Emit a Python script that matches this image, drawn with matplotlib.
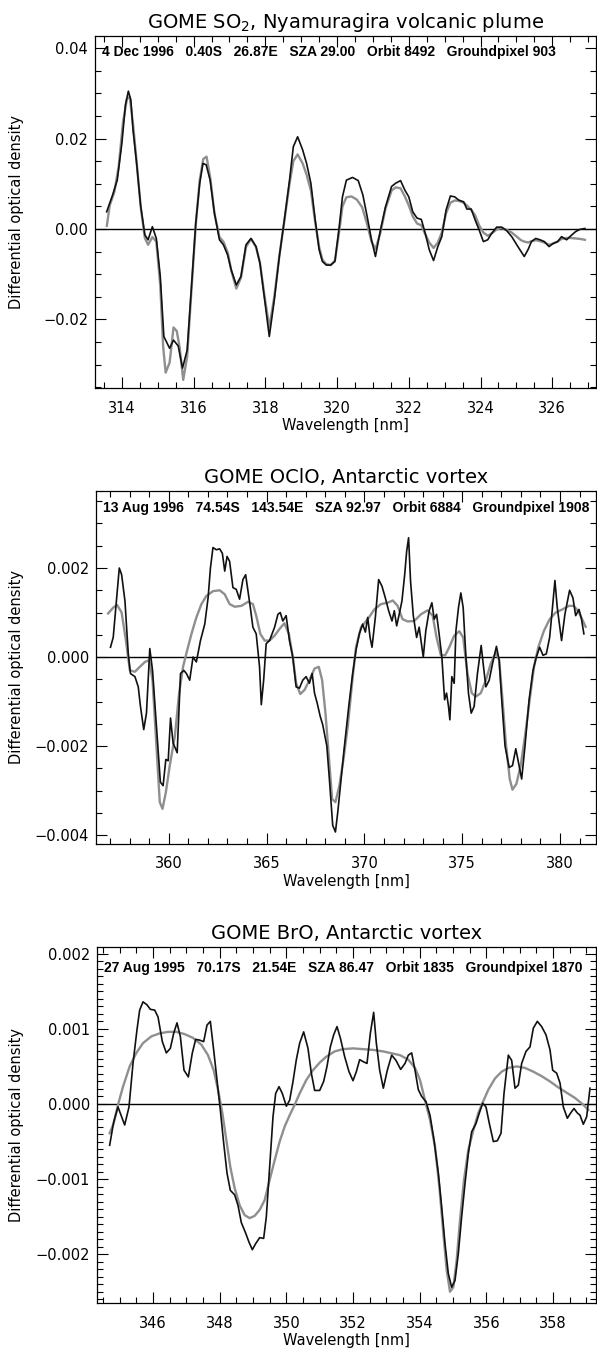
import matplotlib
matplotlib.use("Agg")
import matplotlib.pyplot as plt
from matplotlib.ticker import MultipleLocator, FormatStrFormatter, FuncFormatter

plt.rcParams['font.family'] = ['DejaVu Sans']

# --- SO2, Nyamuragira plume: measured and fitted optical density
so2_wl_meas = [313.575, 313.74, 313.87, 314.00, 314.10, 314.18, 314.25, 314.31, 314.41, 314.52,
               314.64, 314.73, 314.85, 314.96, 315.07, 315.17, 315.33, 315.44, 315.57, 315.69,
               315.82, 315.94, 316.06, 316.17, 316.26, 316.35, 316.46, 316.58, 316.72, 316.83,
               316.95, 317.05, 317.19, 317.32, 317.46, 317.60, 317.74, 317.85, 317.97, 318.11,
               318.25, 318.39, 318.53, 318.67, 318.78, 318.90, 319.04, 319.15, 319.27, 319.39,
               319.50, 319.59, 319.70, 319.82, 319.94, 320.06, 320.15, 320.26, 320.43, 320.59,
               320.72, 320.84, 320.96, 321.07, 321.21, 321.35, 321.52, 321.63, 321.77, 321.89,
               322.00, 322.11, 322.23, 322.35, 322.46, 322.57, 322.69, 322.81, 322.92, 323.04,
               323.16, 323.28, 323.39, 323.53, 323.62, 323.74, 323.85, 323.96, 324.08, 324.20,
               324.31, 324.45, 324.59, 324.73, 324.87, 325.01, 325.13, 325.22, 325.33, 325.42,
               325.54, 325.66, 325.78, 325.91, 326.03, 326.15, 326.26, 326.40, 326.52, 326.65,
               326.77, 326.91]
so2_meas = [0.0038, 0.0075, 0.0108, 0.0190, 0.0275, 0.0305, 0.0285, 0.0219, 0.0146, 0.0053,
            -0.0013, -0.0024, 0.0005, -0.0021, -0.0105, -0.0238, -0.0264, -0.0246, -0.0259, -0.0308,
            -0.0268, -0.0128, 0.0013, 0.0101, 0.0145, 0.0142, 0.0108, 0.0035, -0.0024, -0.0035,
            -0.0058, -0.0091, -0.0124, -0.0105, -0.0035, -0.0021, -0.0039, -0.0076, -0.0150, -0.0238,
            -0.0157, -0.0061, 0.0020, 0.0105, 0.0182, 0.0204, 0.0175, 0.0145, 0.0101, 0.0020,
            -0.0046, -0.0072, -0.0080, -0.0080, -0.0072, 0.0005, 0.0071, 0.0108, 0.0114, 0.0107,
            0.0075, 0.0027, -0.0024, -0.0061, -0.0002, 0.0049, 0.0094, 0.0101, 0.0107, 0.0086,
            0.0071, 0.0038, 0.0024, 0.0021, -0.0010, -0.0046, -0.0070, -0.0039, -0.0017, 0.0042,
            0.0073, 0.0071, 0.0064, 0.0060, 0.0044, 0.0044, 0.0020, -0.0002, -0.0028, -0.0024,
            -0.0010, 0.0004, 0.0004, -0.0004, -0.0017, -0.0035, -0.0050, -0.0061, -0.0045, -0.0028,
            -0.0021, -0.0024, -0.0028, -0.0039, -0.0032, -0.0028, -0.0017, -0.0024, -0.0015, -0.0006,
            -0.0001, 0.0001]
so2_wl_fit = [313.58, 313.66, 313.79, 313.91, 314.03, 314.14, 314.22, 314.32, 314.42, 314.53,
              314.64, 314.73, 314.85, 314.96, 315.07, 315.15, 315.22, 315.33, 315.44, 315.53,
              315.61, 315.71, 315.82, 315.94, 316.06, 316.17, 316.27, 316.36, 316.47, 316.58,
              316.72, 316.83, 316.95, 317.05, 317.19, 317.32, 317.46, 317.60, 317.74, 317.85,
              317.97, 318.11, 318.25, 318.39, 318.53, 318.67, 318.78, 318.90, 319.04, 319.15,
              319.27, 319.39, 319.50, 319.59, 319.70, 319.82, 319.94, 320.06, 320.15, 320.26,
              320.40, 320.55, 320.70, 320.84, 320.96, 321.07, 321.21, 321.35, 321.52, 321.63,
              321.77, 321.89, 322.00, 322.11, 322.23, 322.35, 322.46, 322.57, 322.69, 322.81,
              322.92, 323.04, 323.16, 323.28, 323.39, 323.53, 323.62, 323.74, 323.85, 323.96,
              324.08, 324.20, 324.31, 324.45, 324.59, 324.73, 324.87, 325.01, 325.13, 325.22,
              325.33, 325.42, 325.54, 325.66, 325.78, 325.91, 326.03, 326.15, 326.26, 326.40,
              326.52, 326.65, 326.77, 326.91]
so2_fit = [0.0007, 0.0052, 0.0082, 0.0138, 0.0235, 0.0288, 0.0292, 0.0225, 0.0140, 0.0045,
           -0.0020, -0.0035, -0.0018, -0.0028, -0.0125, -0.0260, -0.0318, -0.0296, -0.0218, -0.0226,
           -0.0262, -0.0334, -0.0282, -0.0135, 0.0010, 0.0108, 0.0155, 0.0160, 0.0110, 0.0035,
           -0.0018, -0.0028, -0.0052, -0.0092, -0.0132, -0.0108, -0.0040, -0.0022, -0.0040, -0.0075,
           -0.0145, -0.0218, -0.0150, -0.0060, 0.0018, 0.0098, 0.0150, 0.0165, 0.0145, 0.0120,
           0.0085, 0.0015, -0.0040, -0.0068, -0.0078, -0.0080, -0.0070, -0.0005, 0.0050, 0.0070,
           0.0072, 0.0065, 0.0048, 0.0010, -0.0028, -0.0045, -0.0008, 0.0045, 0.0085, 0.0092,
           0.0090, 0.0072, 0.0052, 0.0028, 0.0012, 0.0008, -0.0012, -0.0030, -0.0042, -0.0030,
           -0.0008, 0.0035, 0.0058, 0.0063, 0.0062, 0.0058, 0.0052, 0.0042, 0.0030, 0.0008,
           -0.0008, -0.0015, -0.0010, -0.0001, 0.0002, -0.0002, -0.0008, -0.0017, -0.0025, -0.0028,
           -0.0030, -0.0027, -0.0025, -0.0027, -0.0030, -0.0035, -0.0032, -0.0028, -0.0022, -0.0020,
           -0.0020, -0.0021, -0.0022, -0.0024]

# --- OClO, Antarctic vortex
oclo_wl_meas = [357.02, 357.16, 357.47, 357.59, 357.76, 357.93, 358.04, 358.27, 358.44, 358.55,
                358.72, 358.86, 359.03, 359.17, 359.37, 359.57, 359.71, 359.85, 359.97, 360.09,
                360.22, 360.43, 360.60, 360.77, 360.90, 361.07, 361.24, 361.41, 361.62, 361.84,
                362.01, 362.13, 362.26, 362.43, 362.60, 362.74, 362.86, 362.98, 363.11, 363.28,
                363.45, 363.62, 363.79, 363.93, 364.05, 364.17, 364.30, 364.47, 364.64, 364.73,
                364.85, 364.98, 365.15, 365.41, 365.58, 365.70, 365.83, 366.00, 366.17, 366.34,
                366.51, 366.68, 366.85, 367.02, 367.19, 367.33, 367.45, 367.59, 367.74, 367.87,
                368.08, 368.21, 368.38, 368.52, 368.64, 368.81, 368.98, 369.20, 369.40, 369.57,
                369.74, 369.91, 370.05, 370.17, 370.29, 370.39, 370.56, 370.73, 370.90, 371.07,
                371.24, 371.41, 371.53, 371.65, 371.78, 371.92, 372.06, 372.16, 372.26, 372.36,
                372.50, 372.67, 372.80, 373.01, 373.14, 373.31, 373.45, 373.57, 373.69, 373.82,
                373.96, 374.10, 374.20, 374.30, 374.37, 374.47, 374.59, 374.68, 374.81, 374.93,
                375.05, 375.19, 375.32, 375.46, 375.61, 375.78, 375.97, 376.09, 376.21, 376.38,
                376.55, 376.75, 376.89, 377.02, 377.19, 377.40, 377.57, 377.74, 377.91, 378.04,
                378.21, 378.42, 378.62, 378.79, 378.96, 379.13, 379.30, 379.47, 379.60, 379.74,
                379.86, 380.08, 380.25, 380.49, 380.66, 380.80, 380.97, 381.10, 381.22]
oclo_meas = [0.00022, 0.00044, 0.00200, 0.00185, 0.00126, 0.00007, -0.00037, -0.00044, -0.00067, -0.00110,
             -0.00163, -0.00126, 0.00019, -0.00030, -0.00156, -0.00281, -0.00289, -0.00230, -0.00233, -0.00137,
             -0.00193, -0.00215, -0.00037, -0.00030, -0.00037, -0.00052, 0.00000, -0.00011, 0.00037, 0.00074,
             0.00133, 0.00200, 0.00246, 0.00241, 0.00243, 0.00233, 0.00193, 0.00226, 0.00215, 0.00156,
             0.00152, 0.00130, 0.00174, 0.00185, 0.00148, 0.00111, 0.00067, 0.00052, -0.00022, -0.00107,
             -0.00052, 0.00030, 0.00037, 0.00067, 0.00096, 0.00100, 0.00081, 0.00093, 0.00037, 0.00000,
             -0.00067, -0.00070, -0.00052, -0.00044, -0.00059, -0.00037, -0.00081, -0.00104, -0.00133, -0.00152,
             -0.00200, -0.00274, -0.00378, -0.00393, -0.00348, -0.00274, -0.00200, -0.00111, -0.00037, 0.00015,
             0.00052, 0.00074, 0.00056, 0.00089, 0.00044, 0.00022, 0.00089, 0.00174, 0.00159, 0.00133,
             0.00104, 0.00081, 0.00104, 0.00070, 0.00096, 0.00126, 0.00185, 0.00237, 0.00268, 0.00170,
             0.00093, 0.00044, 0.00067, 0.00000, 0.00059, 0.00104, 0.00122, 0.00085, 0.00096, 0.00052,
             0.00000, -0.00096, -0.00081, -0.00111, -0.00141, -0.00044, -0.00059, 0.00059, 0.00111, 0.00144,
             0.00111, 0.00000, -0.00081, -0.00126, -0.00111, -0.00037, 0.00026, -0.00022, -0.00067, -0.00052,
             -0.00015, 0.00024, -0.00007, -0.00096, -0.00200, -0.00248, -0.00244, -0.00206, -0.00244, -0.00274,
             -0.00200, -0.00096, -0.00030, 0.00000, 0.00022, 0.00004, 0.00007, 0.00044, 0.00104, 0.00172,
             0.00111, 0.00037, 0.00096, 0.00150, 0.00133, 0.00093, 0.00107, 0.00085, 0.00052]
oclo_wl_fit = [356.90, 357.16, 357.36, 357.59, 357.81, 358.01, 358.27, 358.52, 358.78, 359.00,
               359.17, 359.37, 359.54, 359.68, 359.85, 360.05, 360.31, 360.53, 360.73, 360.94,
               361.16, 361.41, 361.67, 361.92, 362.26, 362.60, 362.86, 363.11, 363.37, 363.71,
               364.05, 364.30, 364.47, 364.68, 364.90, 365.15, 365.41, 365.66, 365.91, 366.14,
               366.34, 366.51, 366.72, 366.94, 367.19, 367.45, 367.67, 367.84, 368.01, 368.18,
               368.35, 368.52, 368.72, 368.93, 369.15, 369.37, 369.57, 369.83, 370.17, 370.51,
               370.85, 371.19, 371.45, 371.70, 371.95, 372.21, 372.55, 372.89, 373.23, 373.49,
               373.69, 373.91, 374.13, 374.34, 374.59, 374.85, 375.05, 375.27, 375.49, 375.69,
               375.95, 376.21, 376.46, 376.72, 376.89, 377.06, 377.23, 377.43, 377.57, 377.77,
               377.99, 378.21, 378.45, 378.67, 378.89, 379.18, 379.47, 379.78, 380.12, 380.46,
               380.71, 380.97, 381.31]
oclo_fit = [0.00098, 0.00111, 0.00117, 0.00100, 0.00037, -0.00030, -0.00033, -0.00022, -0.00011, -0.00007,
            -0.00052, -0.00200, -0.00326, -0.00341, -0.00304, -0.00244, -0.00178, -0.00081, -0.00022, 0.00015,
            0.00052, 0.00089, 0.00119, 0.00137, 0.00148, 0.00150, 0.00141, 0.00119, 0.00113, 0.00115,
            0.00124, 0.00119, 0.00093, 0.00052, 0.00037, 0.00037, 0.00048, 0.00063, 0.00076, 0.00052,
            0.00000, -0.00059, -0.00083, -0.00074, -0.00052, -0.00026, -0.00022, -0.00052, -0.00126, -0.00222,
            -0.00319, -0.00326, -0.00289, -0.00230, -0.00156, -0.00059, 0.00022, 0.00067, 0.00085, 0.00107,
            0.00119, 0.00122, 0.00127, 0.00115, 0.00085, 0.00080, 0.00081, 0.00096, 0.00105, 0.00093,
            0.00044, 0.00004, 0.00004, 0.00022, 0.00048, 0.00058, 0.00044, -0.00037, -0.00081, -0.00089,
            -0.00081, -0.00052, -0.00015, 0.00011, -0.00007, -0.00096, -0.00193, -0.00274, -0.00298, -0.00285,
            -0.00244, -0.00178, -0.00096, -0.00022, 0.00022, 0.00059, 0.00085, 0.00100, 0.00107, 0.00115,
            0.00115, 0.00100, 0.00068]

# --- BrO, Antarctic vortex
bro_wl_meas = [344.70, 344.82, 344.95, 345.15, 345.28, 345.40, 345.52, 345.60, 345.70, 345.82,
               345.92, 346.05, 346.15, 346.28, 346.40, 346.52, 346.62, 346.72, 346.82, 346.93,
               347.06, 347.18, 347.28, 347.40, 347.52, 347.62, 347.72, 347.82, 347.92, 348.02,
               348.12, 348.22, 348.32, 348.45, 348.55, 348.65, 348.78, 348.88, 348.98, 349.08,
               349.20, 349.32, 349.40, 349.50, 349.60, 349.68, 349.78, 349.88, 350.00, 350.10,
               350.20, 350.30, 350.40, 350.52, 350.65, 350.75, 350.85, 351.00, 351.12, 351.22,
               351.32, 351.42, 351.52, 351.62, 351.75, 351.88, 352.00, 352.10, 352.20, 352.32,
               352.42, 352.52, 352.62, 352.70, 352.80, 352.91, 353.03, 353.16, 353.29, 353.43,
               353.56, 353.66, 353.76, 353.86, 353.96, 354.06, 354.19, 354.31, 354.43, 354.56,
               354.66, 354.76, 354.86, 354.96, 355.06, 355.16, 355.26, 355.36, 355.46, 355.56,
               355.69, 355.79, 355.89, 355.99, 356.09, 356.21, 356.33, 356.44, 356.53, 356.66,
               356.76, 356.86, 356.96, 357.06, 357.19, 357.31, 357.41, 357.53, 357.66, 357.79,
               357.91, 357.99, 358.11, 358.21, 358.31, 358.43, 358.53, 358.63, 358.73, 358.81,
               358.91, 359.01, 359.11]
bro_meas = [-0.00055, -0.00024, -0.00004, -0.00028, -0.00004, 0.00054, 0.00099, 0.00125, 0.00136, 0.00132,
            0.00126, 0.00125, 0.00116, 0.00083, 0.00068, 0.00074, 0.00094, 0.00108, 0.00090, 0.00045,
            0.00036, 0.00068, 0.00086, 0.00085, 0.00083, 0.00105, 0.00110, 0.00072, 0.00032, -0.00008,
            -0.00052, -0.00092, -0.00115, -0.00121, -0.00135, -0.00158, -0.00172, -0.00184, -0.00194, -0.00186,
            -0.00178, -0.00179, -0.00150, -0.00084, -0.00017, 0.00014, 0.00023, 0.00014, -0.00003, 0.00005,
            0.00030, 0.00059, 0.00081, 0.00096, 0.00074, 0.00041, 0.00018, 0.00018, 0.00030, 0.00050,
            0.00076, 0.00092, 0.00103, 0.00088, 0.00063, 0.00043, 0.00031, 0.00043, 0.00059, 0.00056,
            0.00054, 0.00094, 0.00122, 0.00081, 0.00045, 0.00021, 0.00045, 0.00065, 0.00058, 0.00046,
            0.00054, 0.00065, 0.00068, 0.00045, 0.00019, 0.00010, 0.00003, -0.00015, -0.00048, -0.00092,
            -0.00137, -0.00186, -0.00226, -0.00244, -0.00235, -0.00199, -0.00150, -0.00106, -0.00066, -0.00037,
            -0.00026, -0.00012, 0.00001, -0.00004, -0.00026, -0.00050, -0.00049, -0.00039, 0.00014, 0.00065,
            0.00058, 0.00021, 0.00025, 0.00054, 0.00070, 0.00076, 0.00101, 0.00110, 0.00103, 0.00092,
            0.00072, 0.00045, 0.00041, 0.00028, -0.00004, -0.00019, -0.00012, -0.00006, -0.00012, -0.00015,
            -0.00027, -0.00017, 0.00021]
bro_wl_fit = [344.70, 344.82, 344.95, 345.10, 345.30, 345.50, 345.70, 345.95, 346.20, 346.45,
              346.70, 346.95, 347.20, 347.45, 347.65, 347.82, 347.95, 348.08, 348.20, 348.32,
              348.45, 348.60, 348.75, 348.90, 349.05, 349.20, 349.35, 349.50, 349.65, 349.80,
              349.95, 350.10, 350.25, 350.40, 350.60, 350.80, 351.00, 351.20, 351.45, 351.70,
              352.00, 352.30, 352.60, 352.90, 353.41, 353.66, 353.86, 354.01, 354.16, 354.31,
              354.46, 354.59, 354.71, 354.81, 354.91, 355.01, 355.11, 355.21, 355.33, 355.46,
              355.61, 355.76, 355.89, 356.06, 356.26, 356.46, 356.66, 356.91, 357.16, 357.41,
              357.66, 357.91, 358.16, 358.41, 358.66, 358.91, 359.06]
bro_fit = [-0.00039, -0.00026, -0.00001, 0.00023, 0.00050, 0.00068, 0.00081, 0.00090, 0.00094, 0.00096,
           0.00096, 0.00093, 0.00088, 0.00079, 0.00065, 0.00045, 0.00019, -0.00012, -0.00048, -0.00084,
           -0.00112, -0.00135, -0.00148, -0.00152, -0.00149, -0.00141, -0.00128, -0.00101, -0.00075, -0.00050,
           -0.00030, -0.00015, -0.00001, 0.00014, 0.00032, 0.00045, 0.00055, 0.00063, 0.00070, 0.00073,
           0.00074, 0.00073, 0.00072, 0.00070, 0.00065, 0.00059, 0.00048, 0.00032, 0.00005, -0.00021,
           -0.00057, -0.00110, -0.00172, -0.00221, -0.00250, -0.00244, -0.00208, -0.00155, -0.00101, -0.00061,
           -0.00035, -0.00012, 0.00002, 0.00019, 0.00034, 0.00043, 0.00048, 0.00050, 0.00048, 0.00043,
           0.00037, 0.00030, 0.00022, 0.00015, 0.00008, -0.00001, -0.00008]

so2_title = 'GOME SO$_2$, Nyamuragira volcanic plume'
oclo_title = 'GOME OClO, Antarctic vortex'
bro_title = 'GOME BrO, Antarctic vortex'
so2_info = '4 Dec 1996   0.40S   26.87E   SZA 29.00   Orbit 8492   Groundpixel 903'
oclo_info = '13 Aug 1996   74.54S   143.54E   SZA 92.97   Orbit 6884   Groundpixel 1908'
bro_info = '27 Aug 1995   70.17S   21.54E   SZA 86.47   Orbit 1835   Groundpixel 1870'

W, H = 597, 1348
fig = plt.figure(figsize=(W / 100, H / 100), dpi=100)


def px_axes(left, top, right, bottom):
    return fig.add_axes([left / W, 1 - bottom / H, (right - left) / W, (bottom - top) / H])


def od_formatter(fmt):
    # IDL-style labels with a real minus sign and no "-0.000"
    def f(v, pos):
        if abs(v) < 1e-12:
            v = 0.0
        return (fmt % v).replace('-', '\u2212')
    return FuncFormatter(f)


panels = [
    dict(box=(95, 36, 596, 388), xlim=(313.25, 327.22), ylim=(-0.0352, 0.0427),
         xmaj=2, xmin=0.5, ymaj=0.02, ymin=0.005, yfmt='%.2f', info_dy=16,
         wl_m=so2_wl_meas, m=so2_meas, wl_f=so2_wl_fit, f=so2_fit,
         title=so2_title, info=so2_info),
    dict(box=(96, 491, 596, 844), xlim=(356.28, 381.84), ylim=(-0.0042, 0.00373),
         xmaj=5, xmin=1, ymaj=0.002, ymin=0.0005, yfmt='%.3f', info_dy=17,
         wl_m=oclo_wl_meas, m=oclo_meas, wl_f=oclo_wl_fit, f=oclo_fit,
         title=oclo_title, info=oclo_info),
    dict(box=(97, 947, 596, 1303), xlim=(344.32, 359.29), ylim=(-0.00265, 0.00209),
         xmaj=2, xmin=0.5, ymaj=0.001, ymin=0.0001, yfmt='%.3f', info_dy=21,
         wl_m=bro_wl_meas, m=bro_meas, wl_f=bro_wl_fit, f=bro_fit,
         title=bro_title, info=bro_info),
]

for p in panels:
    left, top, right, bottom = p['box']
    ax = px_axes(left, top, right, bottom)
    ax.axhline(0, color='black', lw=1.0, zorder=1)
    ax.plot(p['wl_f'], p['f'], color='#8f8f8f', lw=1.7, zorder=2)
    ax.plot(p['wl_m'], p['m'], color='#111111', lw=1.2, zorder=3)
    ax.set_xlim(*p['xlim'])
    ax.set_ylim(*p['ylim'])
    ax.xaxis.set_major_locator(MultipleLocator(p['xmaj']))
    ax.xaxis.set_minor_locator(MultipleLocator(p['xmin']))
    ax.yaxis.set_major_locator(MultipleLocator(p['ymaj']))
    ax.yaxis.set_minor_locator(MultipleLocator(p['ymin']))
    ax.xaxis.set_major_formatter(FormatStrFormatter('%d'))
    ax.yaxis.set_major_formatter(od_formatter(p['yfmt']))
    ax.tick_params(which='both', direction='in', top=True, right=True, labelsize=10.5, width=0.8)
    ax.tick_params(which='major', length=8)
    ax.tick_params(which='minor', length=4)
    ax.tick_params(axis='x', which='major', pad=9)
    ax.tick_params(axis='y', which='major', pad=5)
    for s in ax.spines.values():
        s.set_linewidth(0.9)
    ax.set_title(p['title'], fontsize=14, pad=6)
    ax.set_xlabel('Wavelength [nm]', fontsize=10.5, labelpad=2)
    ax.set_ylabel('Differential optical density', fontsize=10.5)
    ax.yaxis.set_label_coords((24 - left) / (right - left), 0.5)
    ax.text(0.014, 1 - p['info_dy'] / (bottom - top), p['info'], transform=ax.transAxes,
            fontsize=10, family='Liberation Sans', weight='bold', va='center', ha='left')

fig.savefig('out.png', dpi=100)
